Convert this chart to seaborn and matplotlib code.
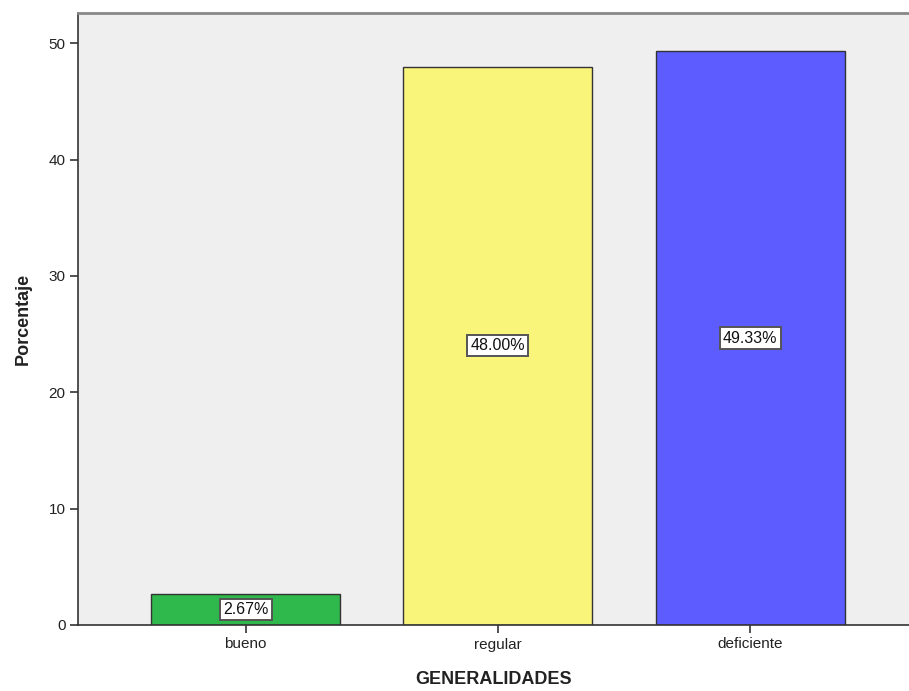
import matplotlib
matplotlib.use("Agg")
import matplotlib.pyplot as plt
import seaborn as sns
import pandas as pd

categories = ["bueno", "regular", "deficiente"]
percentages = [2.67, 48.00, 49.33]
bar_colors = ["#2fb84b", "#f9f57b", "#5c5cff"]

df = pd.DataFrame({"GENERALIDADES": categories, "Porcentaje": percentages})

sns.set_style("white")
plt.rcParams["font.family"] = ["Liberation Sans", "DejaVu Sans"]

fig = plt.figure(figsize=(9.09, 6.91), dpi=100)
ax = fig.add_axes([78 / 909, 66 / 691, 831 / 909, 612 / 691])
ax.set_facecolor("#efefef")

sns.barplot(data=df, x="GENERALIDADES", y="Porcentaje", hue="GENERALIDADES",
            palette=bar_colors, saturation=1, width=0.75, edgecolor="#333333",
            linewidth=1.0, legend=False, ax=ax, zorder=2)

for i, v in enumerate(percentages):
    ax.text(i, v / 2, f"{v:.2f}%", ha="center", va="center", fontsize=11.5,
            color="#111111", zorder=4,
            bbox=dict(boxstyle="square,pad=0.2", facecolor="white",
                      edgecolor="#555555", linewidth=1.4))

ax.set_xlim(-0.665, 2.63)
ax.set_ylim(0, 52.6)
ax.set_yticks([0, 10, 20, 30, 40, 50])

ax.set_xlabel("GENERALIDADES", fontsize=13, fontweight="bold", color="#222222", labelpad=14)
ax.set_ylabel("Porcentaje", fontsize=13, fontweight="bold", color="#222222", labelpad=12)

ax.tick_params(axis="both", which="both", direction="out", length=6, width=1.2,
               color="#333333", labelsize=11, labelcolor="#222222", pad=3)
ax.tick_params(axis="x", bottom=True)
ax.tick_params(axis="y", left=True)

for side in ["left", "bottom"]:
    ax.spines[side].set_color("#333333")
    ax.spines[side].set_linewidth(1.2)
ax.spines["top"].set_color("#888888")
ax.spines["top"].set_linewidth(2.0)
ax.spines["right"].set_visible(False)

fig.savefig("out.png", dpi=100, facecolor="white")
